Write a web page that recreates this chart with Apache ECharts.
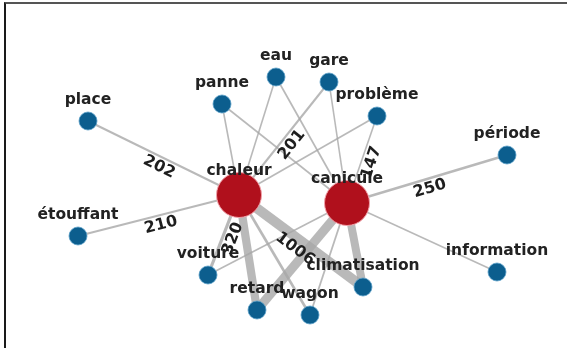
<!DOCTYPE html>
<html><head><meta charset="utf-8">
<script src="https://cdn.jsdelivr.net/npm/echarts@6/dist/echarts.min.js"></script>
<style>
html,body{margin:0;padding:0;background:#fff;}
#wrap{position:relative;width:567px;height:348px;overflow:hidden;}
#c{position:absolute;left:0;top:0;width:567px;height:348px;}
#frame{position:absolute;left:4px;top:2px;width:567px;height:348px;border-top:2px solid #555;border-left:2px solid #1a1a1a;pointer-events:none;}
</style></head>
<body><div id="wrap"><div id="c"></div><div id="frame"></div></div>
<script>
// Nodes
const nodeNames = ['chaleur','canicule','place','étouffant','panne','eau','gare','problème','période','information','voiture','retard','wagon','climatisation'];
const nodeX = [239,347,88,78,222,276,329,377,507,497,208,257,310,363];
const nodeY = [195,203,121,236,104,77,82,116,155,272,275,310,315,287];
const nodeHub = [1,1,0,0,0,0,0,0,0,0,0,0,0,0];

// Edges (co-occurrence weights)
const edgeSource = ['chaleur','chaleur','chaleur','chaleur','chaleur','chaleur','chaleur','chaleur','chaleur','chaleur',
                    'canicule','canicule','canicule','canicule','canicule','canicule','canicule','canicule','canicule','canicule'];
const edgeTarget = ['place','étouffant','panne','eau','gare','problème','voiture','retard','wagon','climatisation',
                    'panne','eau','gare','problème','période','information','voiture','retard','wagon','climatisation'];
const edgeWeight = [202,210,150,160,201,170,320,820,260,1006,
                    150,170,160,147,250,160,150,900,180,800];
const edgeLabelled = [1,1,0,0,1,0,1,0,0,1,
                      0,0,0,1,1,0,0,0,0,0];

const chart = echarts.init(document.getElementById('c'), null, {renderer:'canvas'});
const nodes = nodeNames.map((n,i)=>({
  name:n, value:[nodeX[i],nodeY[i]],
  symbolSize: nodeHub[i]?45:18,
  itemStyle: nodeHub[i]?{color:'#b0101c',borderColor:'#f0a0a8',borderWidth:1}:{color:'#0c5e8e',borderColor:'#5aa0c8',borderWidth:0.8},
  label:{distance: nodeHub[i]?-7:4}
}));
const links = edgeSource.map((s,i)=>({
  source:s, target:edgeTarget[i], value:edgeWeight[i],
  lineStyle:{width: Math.max(1.6, edgeWeight[i]/100)},
  label:{show: !!edgeLabelled[i]}
}));
chart.setOption({
  animation:false,
  grid:{left:0,right:0,top:0,bottom:0},
  xAxis:{type:'value',min:0,max:567,show:false},
  yAxis:{type:'value',min:0,max:348,inverse:true,show:false},
  series:[{
    type:'graph', coordinateSystem:'cartesian2d',
    data:nodes, links:links,
    edgeSymbol:['none','none'],
    lineStyle:{color:'#a8a8a8',opacity:0.8,curveness:0},
    label:{show:true,position:'top',formatter:'{b}',fontFamily:'DejaVu Sans',fontSize:15.5,fontWeight:'bold',color:'#222'},
    edgeLabel:{show:false,position:'insideMiddleBottom',formatter:'{c}',fontFamily:'DejaVu Sans',fontSize:16,fontWeight:'bold',color:'#1e1e1e',opacity:1,distance:2},
    emphasis:{disabled:true}
  }]
});
</script></body></html>
